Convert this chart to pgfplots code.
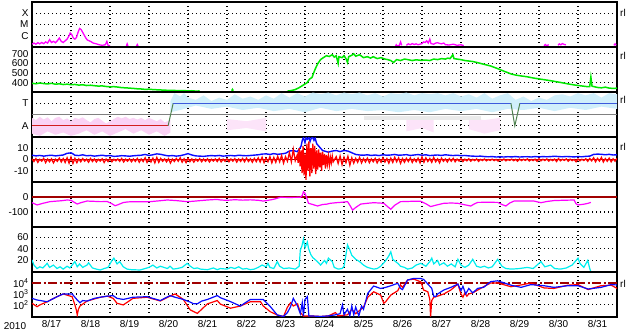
\documentclass[border=0pt]{standalone}
\usepackage{pgfplots}
\pgfplotsset{compat=1.18}
\usepackage{fontspec}
\setmainfont{Liberation Sans}
\definecolor{mag}{RGB}{255,0,255}
\definecolor{grn}{RGB}{0,232,0}
\definecolor{dred}{RGB}{160,0,0}
\definecolor{bl}{RGB}{10,10,255}
\definecolor{rd}{RGB}{255,0,0}
\definecolor{cy}{RGB}{0,238,238}
\definecolor{spkblue}{RGB}{208,239,251}
\definecolor{spkpink}{RGB}{250,210,245}
\definecolor{spkpink2}{RGB}{252,228,249}
\definecolor{spkgray}{RGB}{234,234,234}
\definecolor{tline}{RGB}{60,90,220}
\definecolor{aline}{RGB}{210,30,30}
\definecolor{gline}{RGB}{80,130,80}
\definecolor{cline}{RGB}{128,128,128}
\pgfplotsset{panel/.style={
  scale only axis, width=585bp, height=45bp, anchor=south west,
  xmin=0, xmax=15, xtick={1,...,14}, xticklabels={},
  xmajorgrids, ymajorgrids,
  major grid style={black, line width=1.1bp, dash pattern=on 1.1bp off 2.9bp},
  major tick length=0pt,
  axis line style={black, line width=1.4bp},
  ticklabel style={font=\fontsize{10}{12}\selectfont},
  every axis plot/.append style={line width=1bp},
}}
\begin{document}
\begin{tikzpicture}
\useasboundingbox (0,0) rectangle (633bp,334bp);
% Panel 1: X-ray class
\begin{axis}[panel, at={(32bp,287bp)}, ymin=-7, ymax=-3, ytick={-6,-5,-4}, yticklabels={C,M,X}]
\addplot[mag, line width=1.3bp] coordinates {(0,-6.75) (0.05,-6.65) (0.1,-6.75) (0.15,-6.62) (0.2,-6.72) (0.25,-6.6) (0.3,-6.7) (0.35,-6.55) (0.4,-6.65) (0.45,-6.35) (0.5,-6.6) (0.55,-6.5) (0.6,-6.62) (0.65,-6.45) (0.7,-6.2) (0.75,-6.5) (0.8,-6.6) (0.85,-6.45) (0.9,-6.3) (0.95,-6.0) (0.98,-5.75) (1.02,-5.9) (1.06,-6.2) (1.1,-6.3) (1.14,-6.15) (1.18,-5.7) (1.22,-5.35) (1.26,-5.45) (1.3,-5.7) (1.34,-5.95) (1.38,-6.2) (1.42,-6.38) (1.5,-6.5) (1.57,-6.65) (1.65,-6.72) (1.72,-6.8) (1.8,-6.85) (1.88,-6.8) (1.92,-6.5) (1.95,-6.85) (2.0,-6.9)};
\addplot[mag, line width=1.3bp] coordinates {(2.42,-6.9) (2.44,-6.72) (2.46,-6.9)};
\addplot[mag, line width=1.3bp] coordinates {(2.68,-6.9) (2.70,-6.78) (2.72,-6.9)};
\addplot[mag, line width=1.3bp] coordinates {(9.32,-6.9) (9.34,-6.8) (9.36,-6.9) (9.42,-6.85) (9.45,-6.55) (9.48,-6.85)};
\addplot[mag, line width=1.3bp] coordinates {(9.60,-6.85) (9.65,-6.72) (9.7,-6.8) (9.75,-6.7) (9.8,-6.78) (9.85,-6.72) (9.9,-6.8) (9.95,-6.75) (10.0,-6.7) (10.04,-6.55) (10.08,-6.6) (10.12,-6.45) (10.16,-6.65) (10.2,-6.3) (10.23,-6.7) (10.3,-6.75) (10.35,-6.65) (10.4,-6.62) (10.45,-6.68) (10.5,-6.72) (10.56,-6.65) (10.6,-6.8) (10.7,-6.82) (10.8,-6.75) (10.9,-6.85) (11.0,-6.8) (11.07,-6.88)};
\addplot[mag, line width=1.3bp] coordinates {(13.13,-6.9) (13.16,-6.78) (13.2,-6.88) (13.25,-6.8)};
\addplot[mag, line width=1.3bp] coordinates {(13.49,-6.85) (13.52,-6.72) (13.56,-6.8) (13.6,-6.7) (13.65,-6.78) (13.69,-6.8)};
\addplot[mag, line width=1.3bp] coordinates {(14.92,-6.85) (14.95,-6.72) (14.98,-6.85)};
\end{axis}
% Panel 2: solar wind speed
\begin{axis}[panel, at={(32bp,242bp)}, ymin=305, ymax=770, ytick={400,500,600,700}, yticklabels={400,500,600,700}]
\addplot[grn, line width=1.5bp] coordinates {(0,395) (0.1,390) (0.2,398) (0.3,392) (0.4,388) (0.5,395) (0.6,385) (0.7,390) (0.8,382) (0.9,386) (1.0,380) (1.1,383) (1.2,376) (1.3,380) (1.4,372) (1.5,375) (1.6,370) (1.7,366) (1.8,368) (1.9,362) (2.0,358) (2.1,360) (2.2,356) (2.3,350) (2.4,348) (2.5,345) (2.6,342) (2.7,338) (2.8,336) (2.9,332) (3.0,334) (3.1,330) (3.2,328) (3.3,326) (3.4,324) (3.5,322) (3.6,322) (3.7,320) (3.8,318) (3.9,320) (4.0,316) (4.1,318) (4.2,314) (4.3,316)};
\addplot[grn, line width=1.5bp] coordinates {(5.12,318) (5.14,332) (5.16,318)};
\addplot[grn, line width=1.5bp] coordinates {(6.55,314) (6.65,320) (6.75,330) (6.85,350) (6.95,375) (7.05,400) (7.12,440) (7.18,455) (7.22,500) (7.27,550) (7.33,600) (7.40,640) (7.47,660) (7.55,680) (7.62,672) (7.7,690) (7.75,665) (7.8,680) (7.85,600) (7.87,670) (7.95,660) (8.0,680) (8.05,650) (8.09,610) (8.12,670) (8.2,685) (8.25,700) (8.3,675) (8.4,690) (8.5,660) (8.6,670) (8.68,655) (8.75,670) (8.85,650) (8.95,660) (9.05,645) (9.12,640) (9.2,630) (9.27,610) (9.35,640) (9.45,630) (9.55,645) (9.63,640) (9.75,630) (9.85,638) (9.97,632) (10.1,635) (10.2,630) (10.3,645) (10.4,640) (10.5,650) (10.6,645) (10.66,655) (10.72,650) (10.79,690) (10.82,650) (10.9,645) (10.99,640) (11.1,630) (11.2,625) (11.3,620) (11.43,608) (11.55,595) (11.65,585) (11.76,574) (11.85,560) (11.95,545) (12.02,533) (12.1,520) (12.2,505) (12.28,492) (12.4,480) (12.54,471) (12.7,462) (12.85,450) (13.05,437) (13.2,428) (13.35,418) (13.56,403) (13.7,392) (13.9,378) (14.05,370) (14.2,362) (14.3,360) (14.33,460) (14.36,365) (14.5,352) (14.6,348) (14.7,355) (14.8,345) (14.92,342) (15,345)};
\end{axis}
% Panel 3: sector polarity
\begin{axis}[panel, at={(32bp,197bp)}, ymin=-2, ymax=2, ytick={-1,1}, yticklabels={A,T}]
\addplot[draw=none, fill=spkpink] coordinates {(0,-0.3) (0.1,-0.5) (0.2,-0.2) (0.3,-0.45) (0.4,-0.25) (0.5,-0.6) (0.6,-0.3) (0.7,-0.2) (0.8,-0.5) (0.9,-0.35) (1.0,-0.6) (1.1,-0.3) (1.2,-0.4) (1.3,-0.25) (1.4,-0.5) (1.5,-0.7) (1.6,-0.4) (1.7,-0.3) (1.8,-0.55) (1.9,-0.8) (2.0,-0.6) (2.1,-0.4) (2.2,-0.2) (2.3,-0.35) (2.4,-0.2) (2.5,-0.4) (2.6,-0.3) (2.7,-0.45) (2.8,-0.3) (2.9,-0.5) (3.0,-0.3) (3.1,-0.45) (3.2,-0.6) (3.3,-0.4) (3.4,-0.7) (3.55,-0.5) (3.55,-1.6) (3.4,-1.9) (3.2,-1.5) (3.0,-1.8) (2.8,-1.4) (2.6,-1.7) (2.4,-1.3) (2.2,-1.6) (2.0,-1.9) (1.8,-1.5) (1.6,-1.8) (1.4,-1.4) (1.2,-1.7) (1.0,-1.9) (0.8,-1.6) (0.6,-1.8) (0.4,-1.5) (0.2,-1.9) (0,-1.7)} -- cycle;
\addplot[draw=none, fill=spkpink2] coordinates {(5.0,-0.4) (5.5,-0.6) (6.0,-0.3) (6.0,-1.5) (5.5,-1.2) (5.0,-1.4)} -- cycle;
\addplot[draw=none, fill=spkpink2] coordinates {(9.6,-0.3) (10.0,-0.5) (10.3,-0.3) (10.3,-1.6) (10.0,-1.2) (9.6,-1.5)} -- cycle;
\addplot[draw=none, fill=spkpink2] coordinates {(11.2,-0.3) (11.6,-0.5) (12.0,-0.3) (12.0,-1.4) (11.6,-1.7) (11.2,-1.3)} -- cycle;
\addplot[draw=none, fill=spkgray] coordinates {(8.5,-0.1) (11.5,-0.1) (11.5,-0.5) (8.5,-0.5)} -- cycle;
\addplot[draw=none, fill=spkblue] coordinates {(3.55,1.2) (3.65,1.9) (3.8,1.6) (3.9,1.9) (4.0,1.5) (4.2,1.3) (4.4,1.7) (4.6,1.2) (4.8,1.5) (5.0,1.3) (5.2,1.8) (5.4,1.4) (5.6,1.6) (5.8,1.3) (6.0,1.7) (6.2,1.4) (6.4,1.9) (6.6,1.5) (6.8,1.9) (7.0,1.6) (7.2,1.95) (7.4,1.8) (7.6,1.95) (7.8,1.7) (8.0,1.95) (8.2,1.8) (8.4,1.95) (8.6,1.7) (8.8,1.9) (9.0,1.6) (9.2,1.9) (9.4,1.8) (9.6,1.95) (9.8,1.7) (10.0,1.9) (10.2,1.8) (10.4,1.9) (10.6,1.7) (10.8,1.9) (11.0,1.6) (11.2,1.8) (11.4,1.5) (11.6,1.9) (11.8,1.4) (12.0,1.7) (12.2,1.9) (12.4,1.3) (12.6,1.6) (12.8,1.2) (13.0,1.5) (13.2,1.3) (13.4,1.7) (13.6,1.8) (13.8,1.6) (14.0,1.9) (14.2,1.7) (14.4,1.9) (14.6,1.5) (14.8,1.9) (15,1.8) (15,0.5) (14.6,0.7) (14.2,0.4) (13.8,0.6) (13.4,0.3) (13.0,0.6) (12.6,0.4) (12.2,0.5) (11.8,0.2) (11.4,0.5) (11.0,0.3) (10.6,0.5) (10.2,0.2) (9.8,0.4) (9.4,0.2) (9.0,0.4) (8.6,0.3) (8.2,0.5) (7.8,0.3) (7.4,0.6) (7.0,0.2) (6.6,0.5) (6.2,0.3) (5.8,0.6) (5.4,0.4) (5.0,0.7) (4.6,0.5) (4.2,0.8) (3.8,0.4) (3.55,0.2)} -- cycle;
\addplot[cline, line width=1.2bp] coordinates {(0,0) (15,0)};
\addplot[aline] coordinates {(0,-1) (3.49,-1)};
\addplot[gline] coordinates {(3.49,-1) (3.62,1)};
\addplot[tline] coordinates {(3.62,1) (12.28,1)};
\addplot[gline] coordinates {(12.28,1) (12.38,-1) (12.51,1)};
\addplot[tline] coordinates {(12.51,1) (15,1)};
\end{axis}
% Panel 4: IMF
\begin{axis}[panel, at={(32bp,152bp)}, ymin=-20, ymax=20, ytick={-10,0,10}, yticklabels={-10,0,10}]
\addplot[bl, line width=1.4bp] coordinates {(0,3.8) (0.1,3.2) (0.2,3.6) (0.3,3.0) (0.4,3.5) (0.5,3.8) (0.6,3.2) (0.7,3.6) (0.8,4.0) (0.9,5.5) (1.0,5.9) (1.05,5.0) (1.1,3.8) (1.2,3.5) (1.3,4.2) (1.4,3.3) (1.5,3.6) (1.6,3.0) (1.7,3.4) (1.8,3.8) (1.9,3.2) (2.0,3.5) (2.1,2.8) (2.2,3.0) (2.3,3.4) (2.4,3.2) (2.5,2.9) (2.6,3.3) (2.7,3.6) (2.8,3.8) (2.9,4.5) (3.0,3.6) (3.1,4.2) (3.2,5.0) (3.3,4.6) (3.4,3.8) (3.5,3.2) (3.6,3.5) (3.7,3.0) (3.8,3.4) (3.9,4.2) (4.0,5.2) (4.1,4.0) (4.2,3.2) (4.3,3.0) (4.4,2.8) (4.5,3.2) (4.6,3.5) (4.7,3.2) (4.8,3.6) (4.9,3.0) (5.0,3.3) (5.1,3.6) (5.2,3.2) (5.3,3.8) (5.4,3.5) (5.5,3.3) (5.6,3.6) (5.7,3.9) (5.8,4.2) (5.9,4.8) (6.0,5.0) (6.1,4.5) (6.2,5.2) (6.3,4.6) (6.4,5.0) (6.5,5.5) (6.6,7.5) (6.7,8.0) (6.8,7.0) (6.85,9) (6.9,12) (6.93,17) (6.96,19.5) (7.0,15) (7.03,19.5) (7.06,18) (7.1,19.5) (7.13,16) (7.16,19) (7.2,19.5) (7.23,17) (7.26,19) (7.3,14) (7.35,12) (7.4,10) (7.45,8) (7.5,7.5) (7.6,6.5) (7.7,7.5) (7.8,8) (7.9,7) (8.0,8) (8.1,7.5) (8.2,6) (8.3,4.5) (8.4,4) (8.5,3.8) (8.6,4.2) (8.7,3.6) (8.8,4) (8.9,3.5) (9.0,4.2) (9.1,3.8) (9.2,4) (9.3,4.5) (9.4,3.8) (9.5,4) (9.6,4.3) (9.7,3.6) (9.8,4) (9.9,4.4) (10.0,3.8) (10.1,4.2) (10.2,3.5) (10.3,3.8) (10.4,4.0) (10.5,3.6) (10.6,4.2) (10.7,3.8) (10.8,3.5) (10.9,3.8) (11.0,3.4) (11.1,3.6) (11.2,3.2) (11.3,3.0) (11.4,2.8) (11.5,3.0) (11.6,2.6) (11.7,2.4) (11.8,2.6) (11.9,2.2) (12.0,2.4) (12.1,2.2) (12.2,2.5) (12.3,2.3) (12.4,2.6) (12.5,2.2) (12.6,2.4) (12.7,2.5) (12.8,2.2) (12.9,2.6) (13.0,2.3) (13.1,2.6) (13.2,2.4) (13.3,2.6) (13.4,2.9) (13.5,2.6) (13.6,2.4) (13.7,2.7) (13.8,2.5) (13.9,2.3) (14.0,2.6) (14.1,2.4) (14.2,2.8) (14.3,3.0) (14.4,4.5) (14.5,4.8) (14.6,4.6) (14.7,4.2) (14.8,4.6) (14.9,4.0) (15,4.2)};
\addplot[dred, line width=0.8bp] coordinates {(0,0) (15,0)};
\addplot[rd, line width=1.3bp] coordinates {(0,0.5) (0.05,-1.8) (0.1,0.8) (0.15,-2.5) (0.2,0.2) (0.25,-1.5) (0.3,1.0) (0.35,-2.8) (0.4,0.4) (0.45,-2.0) (0.5,0.6) (0.55,-3.0) (0.6,0.2) (0.65,-1.6) (0.7,1.2) (0.75,-2.2) (0.8,0.8) (0.85,-2.6) (0.9,1.5) (0.95,-3.2) (1.0,2.0) (1.05,-3.5) (1.1,1.0) (1.15,-2.8) (1.2,0.5) (1.25,-2.0) (1.3,0.8) (1.35,-1.5) (1.4,0.3) (1.45,-2.4) (1.5,0.9) (1.55,-1.8) (1.6,0.5) (1.65,-2.2) (1.7,0.2) (1.75,-1.4) (1.8,0.6) (1.85,-2.6) (1.9,0.4) (1.95,-1.8) (2.0,0.8) (2.05,-2.0) (2.1,0.2) (2.15,-1.2) (2.2,0.5) (2.25,-1.6) (2.3,0.9) (2.35,-2.2) (2.4,0.3) (2.45,-1.5) (2.5,0.6) (2.55,-2.0) (2.6,0.4) (2.65,-1.7) (2.7,1.0) (2.75,-2.4) (2.8,0.5) (2.85,-1.8) (2.9,1.5) (2.95,-2.6) (3.0,0.8) (3.05,-2.2) (3.1,1.2) (3.15,-3.0) (3.2,1.8) (3.25,-2.5) (3.3,0.9) (3.35,-1.6) (3.4,0.5) (3.45,-2.1) (3.5,0.7) (3.55,-3.2) (3.6,0.4) (3.65,-1.8) (3.7,0.9) (3.75,-1.5) (3.8,1.5) (3.85,-2.4) (3.9,0.6) (3.95,-2.8) (4.0,1.0) (4.05,-1.9) (4.1,0.5) (4.15,-2.3) (4.2,0.3) (4.25,-1.5) (4.3,0.8) (4.35,-2.0) (4.4,0.4) (4.45,-1.6) (4.5,0.6) (4.55,-2.2) (4.6,0.2) (4.65,-1.4) (4.7,0.5) (4.75,-1.8) (4.8,0.9) (4.85,-2.1) (4.9,0.3) (4.95,-1.6) (5.0,0.7) (5.05,-2.0) (5.1,0.4) (5.15,-1.5) (5.2,0.8) (5.25,-2.3) (5.3,0.5) (5.35,-1.7) (5.4,0.9) (5.45,-2.0) (5.5,1.2) (5.55,-1.8) (5.6,0.6) (5.65,-2.4) (5.7,1.0) (5.75,-1.9) (5.8,1.5) (5.85,-2.2) (5.9,2.0) (5.95,-2.8) (6.0,1.2) (6.05,-2.0) (6.1,2.5) (6.15,-3.0) (6.2,1.8) (6.25,-2.4) (6.3,2.8) (6.35,-2.0) (6.4,3.5) (6.45,-3.2) (6.5,2.5) (6.55,-1.5) (6.6,6.0) (6.65,-2.0) (6.7,9.0) (6.75,-1.0) (6.8,4) (6.825,-3) (6.85,10) (6.875,-6) (6.9,8) (6.925,-12) (6.95,12) (6.975,-14) (7.0,6) (7.025,-18) (7.05,14) (7.075,-10) (7.1,16) (7.125,-15) (7.15,10) (7.175,-12) (7.2,14) (7.225,-8) (7.25,12) (7.275,-13) (7.3,8) (7.325,-9) (7.35,9) (7.375,-7) (7.4,6) (7.425,-10) (7.45,7) (7.475,-5) (7.5,5) (7.525,-8) (7.55,4) (7.575,-4) (7.6,3) (7.625,-5) (7.65,2) (7.675,-3) (7.7,3) (7.725,-2) (7.8,2.5) (7.85,-3.5) (7.9,3.0) (7.95,-4.5) (8.0,2.0) (8.05,-2.8) (8.1,2.8) (8.15,-5.0) (8.2,1.5) (8.25,-3.2) (8.3,1.0) (8.35,-2.5) (8.4,1.8) (8.45,-3.0) (8.5,0.8) (8.55,-2.2) (8.6,1.2) (8.65,-2.8) (8.7,0.5) (8.75,-2.0) (8.8,1.0) (8.85,-3.0) (8.9,0.6) (8.95,-2.4) (9.0,1.5) (9.05,-2.2) (9.1,0.8) (9.15,-3.2) (9.2,1.2) (9.25,-2.6) (9.3,2.0) (9.35,-2.0) (9.4,1.5) (9.45,-3.4) (9.5,0.8) (9.55,-2.4) (9.6,1.0) (9.65,-1.8) (9.7,1.4) (9.75,-2.6) (9.8,0.6) (9.85,-2.0) (9.9,1.2) (9.95,-3.0) (10.0,2.2) (10.05,-2.4) (10.1,1.5) (10.15,-1.8) (10.2,0.9) (10.25,-2.5) (10.3,1.8) (10.35,-2.0) (10.4,0.6) (10.45,-3.0) (10.5,1.2) (10.55,-1.6) (10.6,0.5) (10.65,-2.2) (10.7,0.8) (10.75,-1.5) (10.8,1.0) (10.85,-2.0) (10.9,0.4) (10.95,-1.4) (11.0,0.8) (11.05,-1.8) (11.1,0.3) (11.15,-1.2) (11.2,0.6) (11.25,-1.5) (11.3,0.2) (11.35,-1.0) (11.4,0.5) (11.45,-1.6) (11.5,0.1) (11.55,-0.9) (11.6,0.4) (11.65,-1.2) (11.7,0.0) (11.75,-0.8) (11.8,0.3) (11.85,-1.0) (11.9,0.1) (11.95,-1.4) (12.0,0.2) (12.05,-0.9) (12.1,0.4) (12.15,-1.2) (12.2,0.0) (12.25,-0.8) (12.3,0.3) (12.35,-1.1) (12.4,0.1) (12.45,-1.5) (12.5,0.4) (12.55,-1.0) (12.6,0.2) (12.65,-0.8) (12.7,0.5) (12.75,-1.3) (12.8,0.0) (12.85,-1.0) (12.9,0.3) (12.95,-1.6) (13.0,0.6) (13.05,-1.2) (13.1,0.2) (13.15,-0.9) (13.2,0.5) (13.25,-1.4) (13.3,0.1) (13.35,-1.0) (13.4,0.4) (13.45,-1.8) (13.5,0.8) (13.55,-1.2) (13.6,0.2) (13.65,-0.8) (13.7,0.5) (13.75,-1.5) (13.8,0.3) (13.85,-1.0) (13.9,0.0) (13.95,-2.0) (14.0,0.4) (14.05,-1.2) (14.1,0.2) (14.15,-0.9) (14.2,0.6) (14.25,-1.6) (14.3,0.9) (14.35,-1.2) (14.4,1.5) (14.45,-2.0) (14.5,1.0) (14.55,-1.4) (14.6,1.8) (14.65,-2.2) (14.7,0.8) (14.75,-1.6) (14.8,1.2) (14.85,-2.0) (14.9,0.6) (14.95,-1.5) (15,1.0)};
\end{axis}
% Panel 5: Dst
\begin{axis}[panel, at={(32bp,107bp)}, ymin=-200, ymax=100, ytick={-100,0}, yticklabels={-100,0}]
\addplot[dred, line width=1.2bp] coordinates {(0,0) (15,0)};
\addplot[mag, line width=1.2bp] coordinates {(0,-38) (0.13,-53) (0.2,-48) (0.28,-42) (0.46,-31) (0.6,-28) (0.75,-25) (0.9,-20) (1.0,-22) (1.08,-35) (1.16,-47) (1.25,-38) (1.41,-27) (1.6,-29) (1.75,-31) (1.93,-30) (2.05,-45) (2.13,-58) (2.2,-52) (2.34,-37) (2.45,-33) (2.59,-31) (2.8,-32) (3.03,-31) (3.2,-27) (3.47,-20) (3.7,-24) (3.98,-31) (4.15,-28) (4.32,-24) (4.5,-20) (4.75,-16) (4.83,-20) (5.0,-22) (5.2,-18) (5.4,-21) (5.6,-19) (5.8,-22) (5.93,-27) (6.1,-20) (6.2,-15) (6.37,-2) (6.6,-3) (6.88,-2) (6.93,10) (6.96,35) (7.0,25) (7.05,-10) (7.09,-42) (7.2,-50) (7.32,-60) (7.45,-50) (7.55,-48) (7.65,-42) (7.8,-38) (7.95,-35) (8.09,-31) (8.15,-55) (8.22,-87) (8.3,-70) (8.43,-47) (8.6,-42) (8.76,-38) (8.9,-40) (9.02,-42) (9.1,-60) (9.2,-82) (9.3,-55) (9.45,-31) (9.6,-30) (9.8,-28) (9.97,-29) (10.1,-45) (10.22,-64) (10.35,-55) (10.56,-42) (10.75,-40) (10.92,-42) (11.1,-52) (11.25,-60) (11.35,-45) (11.43,-36) (11.7,-35) (11.94,-36) (12.05,-50) (12.15,-60) (12.25,-40) (12.36,-27) (12.6,-27) (12.87,-27) (13.05,-38) (13.2,-30) (13.38,-24) (13.6,-22) (13.9,-20) (13.95,-45) (14.0,-53) (14.15,-48) (14.26,-42) (14.33,-36)};
\end{axis}
% Panel 6
\begin{axis}[panel, at={(32bp,62bp)}, ymin=0, ymax=78, ytick={20,40,60}, yticklabels={20,40,60}]
\addplot[cy, line width=1.2bp] coordinates {(0,21) (0.05,12) (0.13,6) (0.2,9) (0.28,7) (0.39,15) (0.45,8) (0.55,12) (0.64,6) (0.72,9) (0.8,5) (0.9,10) (0.97,7) (1.1,18) (1.16,9) (1.22,14) (1.3,8) (1.41,12) (1.45,16) (1.55,7) (1.65,5) (1.75,3.5) (1.85,6) (1.95,8) (2.05,20) (2.1,24) (2.18,14) (2.25,18) (2.34,9) (2.44,5) (2.55,4) (2.77,3.5) (2.9,6) (3.0,8) (3.1,12) (3.2,7) (3.29,10) (3.47,6) (3.54,10) (3.62,5) (3.72,6) (3.85,8) (3.98,15) (4.06,10) (4.15,6) (4.24,7) (4.32,5) (4.5,4) (4.65,7) (4.75,4) (4.83,6) (5.0,5) (5.1,8) (5.2,6) (5.3,9) (5.4,5) (5.5,6) (5.6,4) (5.7,5) (5.8,8) (5.9,12) (6.0,9) (6.05,15) (6.1,8) (6.2,6) (6.29,18) (6.35,10) (6.45,6) (6.6,7) (6.75,5) (6.85,10) (6.88,38) (6.92,45) (6.96,57) (7.0,42) (7.06,52) (7.09,41) (7.15,30) (7.2,25) (7.32,18) (7.4,12) (7.5,20) (7.55,15) (7.6,24) (7.7,18) (7.75,8) (7.85,5) (7.95,6) (8.0,10) (8.05,30) (8.09,47) (8.15,38) (8.2,29) (8.3,22) (8.4,18) (8.5,12) (8.6,8) (8.76,5) (8.85,6) (8.94,10) (9.05,18) (9.15,28) (9.2,35) (9.25,22) (9.38,15) (9.45,10) (9.55,8) (9.63,5) (9.75,7) (9.85,12) (9.97,15) (10.1,10) (10.2,18) (10.25,24) (10.3,14) (10.4,20) (10.45,12) (10.56,16) (10.65,10) (10.75,14) (10.85,9) (10.92,22) (11.0,12) (11.1,8) (11.2,12) (11.3,22) (11.4,10) (11.5,8) (11.6,10) (11.7,7) (11.8,9) (11.94,22) (12.05,10) (12.15,6) (12.3,5) (12.5,6) (12.7,8) (12.85,6) (13.05,18) (13.15,9) (13.3,12) (13.4,6) (13.55,5) (13.7,7) (13.85,12) (14.0,24) (14.05,15) (14.15,8) (14.25,20) (14.3,6) (14.33,0.5)};
\end{axis}
% Panel 7: electron flux (log10)
\begin{axis}[panel, at={(32bp,17bp)}, ymin=0.9, ymax=5, ytick={2,3,4}, yticklabels={10\textsuperscript{2},10\textsuperscript{3},10\textsuperscript{4}},
  extra x ticks={0.5,1.5,...,14.5}, extra x tick labels={8/17,8/18,8/19,8/20,8/21,8/22,8/23,8/24,8/25,8/26,8/27,8/28,8/29,8/30,8/31},
  extra x tick style={grid=none, major tick length=0pt}]
\addplot[dred, line width=1.2bp, dash pattern=on 9bp off 2.5bp on 2bp off 2.5bp] coordinates {(0,4) (15,4)};
\addplot[rd, line width=1.2bp] coordinates {(0,2.15) (0.13,1.84) (0.2,2.0) (0.39,2.29) (0.64,2.75) (0.8,3.0) (1.03,2.75) (1.10,2.0) (1.14,1.5) (1.16,1.08) (1.19,1.6) (1.23,1.9) (1.41,2.35) (1.75,2.7) (1.93,2.8) (2.08,2.6) (2.18,2.15) (2.34,2.0) (2.59,2.6) (2.95,2.7) (3.29,2.36) (3.54,2.8) (3.67,3.0) (3.88,2.5) (4.06,1.54) (4.24,1.23) (4.35,1.6) (4.5,2.1) (4.75,2.4) (4.83,2.08) (5.09,1.7) (5.34,1.9) (5.6,2.29) (5.86,2.29) (5.93,1.9) (6.11,1.38) (6.29,1.08) (6.45,0.95) (6.55,1.8) (6.63,2.2) (6.70,1.9) (6.81,2.1) (6.88,1.3) (6.96,1.0) (7.14,1.0) (7.4,0.95) (7.6,1.0) (7.78,1.3) (7.85,1.0) (8.09,1.1) (8.2,1.6) (8.3,1.2) (8.4,1.5) (8.5,1.8) (8.61,2.7) (8.76,3.2) (8.94,2.9) (9.02,2.15) (9.07,2.3) (9.20,2.9) (9.38,3.3) (9.45,3.82) (9.50,3.6) (9.63,4.27) (9.79,4.35) (9.97,4.1) (10.04,3.36) (10.15,3.2) (10.2,2.5) (10.22,0.93) (10.25,2.4) (10.3,2.7) (10.4,2.8) (10.56,3.0) (10.74,3.36) (10.92,3.9) (11.0,3.0) (11.05,2.7) (11.1,3.1) (11.15,2.8) (11.2,3.0) (11.30,3.1) (11.43,3.36) (11.58,3.66) (11.76,4.0) (11.94,4.0) (12.28,3.66) (12.54,3.82) (12.79,4.0) (13.13,3.55) (13.38,3.5) (13.74,3.8) (14.0,3.85) (14.26,3.4) (14.59,3.75) (14.85,3.8) (15,3.51)};
\addplot[bl, line width=1.2bp] coordinates {(0,2.6) (0.13,2.45) (0.39,2.29) (0.64,2.75) (0.8,3.0) (1.03,3.0) (1.10,2.7) (1.16,2.45) (1.23,2.2) (1.3,2.4) (1.41,2.35) (1.6,2.6) (1.75,2.7) (1.93,2.8) (2.08,2.85) (2.18,2.6) (2.34,2.5) (2.59,2.7) (2.95,2.75) (3.29,2.4) (3.54,2.85) (3.67,2.7) (3.88,2.5) (4.06,2.25) (4.15,2.1) (4.24,2.1) (4.35,2.35) (4.5,2.5) (4.75,2.85) (4.83,2.66) (5.09,2.3) (5.34,1.9) (5.6,2.5) (5.86,2.5) (5.93,2.5) (6.11,1.85) (6.29,1.08) (6.45,0.95) (6.55,1.3) (6.63,1.85) (6.70,2.6) (6.81,1.9) (6.88,1.2) (6.93,2.2) (6.96,1.0) (7.0,2.5) (7.06,2.75) (7.1,1.0) (7.14,1.0) (7.4,0.95) (7.6,1.0) (7.78,1.1) (7.9,1.2) (7.96,2.0) (8.0,1.1) (8.09,1.6) (8.15,1.0) (8.2,1.9) (8.25,1.1) (8.3,1.8) (8.38,1.0) (8.45,1.9) (8.5,1.6) (8.61,3.06) (8.76,3.72) (8.94,3.5) (9.07,3.6) (9.20,3.75) (9.38,3.97) (9.45,3.5) (9.50,3.4) (9.63,4.27) (9.79,4.42) (9.97,4.4) (10.04,4.33) (10.15,3.9) (10.25,3.51) (10.3,2.8) (10.35,2.75) (10.4,3.0) (10.56,3.36) (10.74,3.6) (10.92,3.9) (11.0,3.3) (11.05,3.7) (11.12,3.0) (11.2,3.5) (11.30,3.1) (11.43,3.51) (11.58,3.6) (11.76,4.12) (11.94,4.2) (12.28,3.8) (12.54,3.6) (12.79,3.85) (13.13,3.75) (13.38,3.6) (13.74,3.75) (14.0,3.75) (14.26,3.45) (14.59,3.6) (14.85,3.85) (15,3.82)};
\end{axis}
\node[font=\fontsize{10}{12}\selectfont] at (15bp,8bp) {2010};
\foreach \yy in {321,278,234,187,50} {\node[anchor=west, font=\fontsize{10}{12}\selectfont, inner sep=0pt] at (620bp,\yy bp) {rl};}
\end{tikzpicture}
\end{document}
